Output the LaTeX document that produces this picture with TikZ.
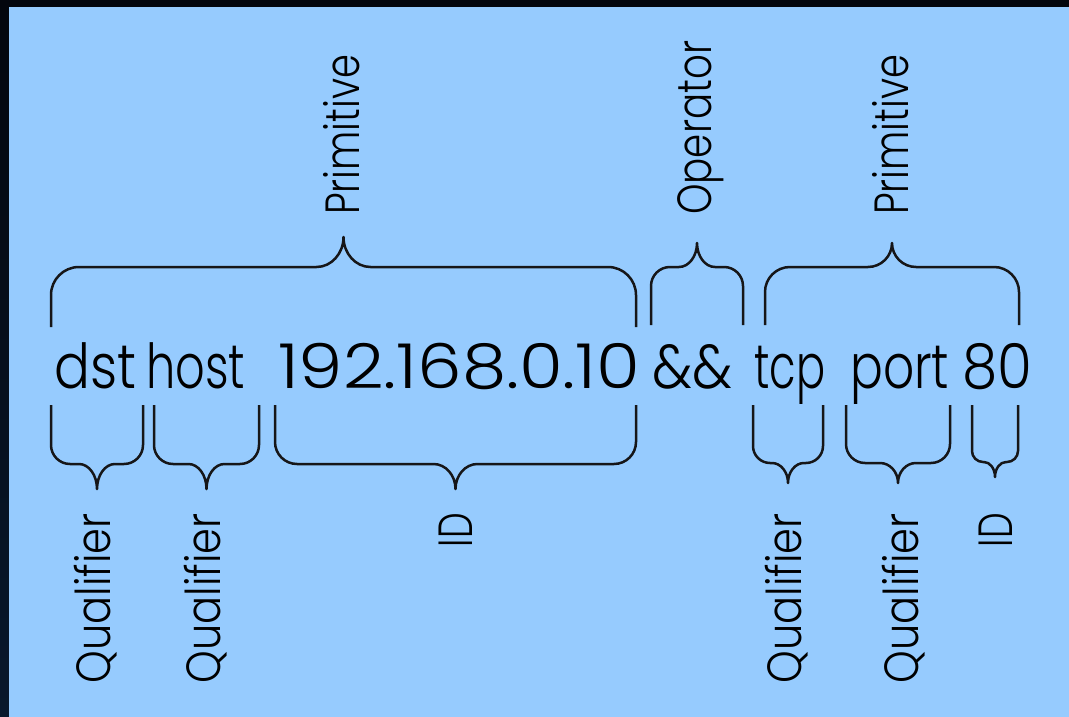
\documentclass[tikz,border=0pt]{standalone}
\usepackage{fontspec}
\setmainfont{Poppins Light}
\usepackage{graphicx}
\definecolor{bgblue}{RGB}{150,203,254}
\definecolor{darkA}{RGB}{3,6,13}
\definecolor{darkB}{RGB}{8,24,44}
\definecolor{ink}{RGB}{22,22,24}
\newsavebox\tbox
\newdimen\tboxw
\makeatletter
\newcommand\fitto[2]{\sbox\tbox{#2}\tboxw=\wd\tbox\pgfmathsetmacro\sxf{#1/\strip@pt\tboxw}\scalebox{\sxf}[1]{\usebox\tbox}}
\makeatother
% brace: x1 x2 yend yline ytip r ax d
\newcommand\brc[8]{%
 \pgfmathsetmacro\xm{(#1+#2)/2}%
 \draw[brc] (#1,#3) -- (#1,{#4+(#8)*#6})
  .. controls (#1,{#4+(#8)*0.448*#6}) and ({#1+0.448*#6},#4) .. ({#1+#6},#4)
  -- ({\xm-#7},#4)
  .. controls ({\xm-0.448*#7},#4) and (\xm,{#5+0.552*(#4-#5)}) .. (\xm,#5)
  .. controls (\xm,{#5+0.552*(#4-#5)}) and ({\xm+0.448*#7},#4) .. ({\xm+#7},#4)
  -- ({#2-#6},#4)
  .. controls ({#2-0.448*#6},#4) and (#2,{#4+(#8)*0.448*#6}) .. (#2,{#4+(#8)*#6})
  -- (#2,#3);}
\tikzset{
  brc/.style={draw=ink, line width=2.5pt, line join=round},
  word/.style={anchor=base west, inner sep=0pt, text=black, font=\fontsize{62}{64}\selectfont},
  toplab/.style={rotate=90, anchor=base west, inner sep=0pt, text=black, font=\fontsize{48}{50}\selectfont},
  botlab/.style={rotate=90, anchor=base east, inner sep=0pt, text=black, font=\fontsize{48}{50}\selectfont}
}
\begin{document}
\begin{tikzpicture}[x=1pt,y=-1pt]
\useasboundingbox (0,0) rectangle (1069,717);
\shade[top color=darkA, bottom color=darkB] (0,0) rectangle (1069,717);
\fill[bgblue] (9,7) rectangle (1069,717);

% main expression
\node[word] (w1) at (54,388) {\fitto{82}{dst}};
\node[word] (w2) at (146,388) {\fitto{99}{host}};
\node[word] (w3) at (278,388) {\fitto{362}{192.168.0.10}};
\node[word] (w4) at (652,388) {\fitto{80}{\&\&}};
\node[word] (w5) at (754,388) {\fitto{71}{tcp}};
\node[word] (w6) at (850,388) {\fitto{99}{port}};
\node[word] (w7) at (962,388) {\fitto{70}{80}};

% upper braces
\brc{51}{636}{327}{267}{237}{28}{27}{1}
\brc{651}{743}{325}{267}{243}{19}{18}{1}
\brc{765}{1019}{325}{267}{243}{25}{24}{1}

% lower braces
\brc{51}{143}{405}{464}{489}{19}{18}{-1}
\brc{154}{259}{405}{464}{489}{19}{18}{-1}
\brc{275}{636}{405}{464}{489}{22}{22}{-1}
\brc{753}{823}{405}{463}{483}{17}{16}{-1}
\brc{846}{950}{405}{463}{483}{19}{18}{-1}
\brc{972}{1018}{405}{462}{477}{11}{11}{-1}

% upper labels
\node[toplab] (p1) at (359,215) {\fitto{160}{Primitive}};
\node[toplab] (op) at (711,215) {\fitto{174}{Operator}};
\node[toplab] (p2) at (908,215) {\fitto{160}{Primitive}};

% lower labels
\node[botlab] (q1) at (110,513) {\fitto{170}{Qualifier}};
\node[botlab] (q2) at (220,513) {\fitto{170}{Qualifier}};
\node[botlab] (id1) at (472,513) {\fitto{34}{ID}};
\node[botlab] (q3) at (801,513) {\fitto{170}{Qualifier}};
\node[botlab] (q4) at (918,513) {\fitto{170}{Qualifier}};
\node[botlab] (id2) at (1012,513) {\fitto{34}{ID}};
\end{tikzpicture}
\end{document}
